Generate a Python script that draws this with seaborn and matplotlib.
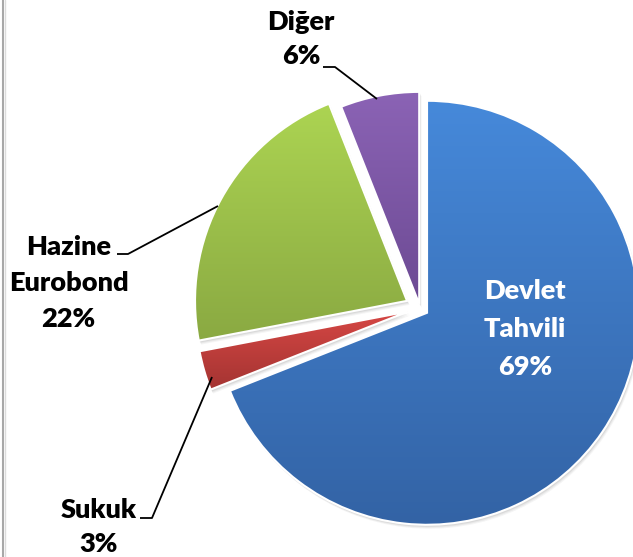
import numpy as np
import matplotlib
matplotlib.use("Agg")
import matplotlib.pyplot as plt
import matplotlib.patches as mpatches
import seaborn as sns
from matplotlib.colors import LinearSegmentedColormap

# ---- data ----
categories = ["Devlet\nTahvili", "Sukuk", "Hazine\nEurobond", "Diğer"]
shares = [69, 3, 22, 6]
pct_labels = ["69%", "3%", "22%", "6%"]

sns.set_theme(style="white")
plt.rcParams['font.family'] = ['Lato', 'DejaVu Sans']

W, H = 633, 557
fig = plt.figure(figsize=(W / 100, H / 100), dpi=100)
ax = fig.add_axes([0, 0, 1, 1])

top_colors = ["#4689da", "#d64744", "#acd452", "#8b63b5"]
bot_colors = ["#3363a5", "#a43432", "#8aa942", "#6c4a93"]
explode = [8.5, 12.7, 14.8, 4.2]
center = (420, 249)
radius = 212

wedges, _ = ax.pie(shares, center=center, radius=radius, startangle=90,
                   counterclock=False, explode=explode, colors=top_colors,
                   wedgeprops=dict(edgecolor='white', linewidth=1.5, zorder=3))

# soft shadows and gradient fills
for w, c_top, c_bot in zip(wedges, top_colors, bot_colors):
    for k, (off, a) in enumerate([(4, 0.06), (3, 0.08), (2, 0.10)]):
        sh = mpatches.Wedge((w.center[0] + off * 0.6, w.center[1] - off), w.r,
                            w.theta1, w.theta2, facecolor='#555555',
                            edgecolor='none', alpha=a, zorder=1)
        ax.add_patch(sh)
    bb = w.get_path().get_extents()
    cmap = LinearSegmentedColormap.from_list("g", [c_bot, c_top])
    grad = np.linspace(0, 1, 256).reshape(-1, 1)
    im = ax.imshow(grad, cmap=cmap, origin='lower', aspect='auto',
                   extent=[bb.x0, bb.x1, bb.y0, bb.y1], zorder=2,
                   interpolation='bilinear')
    im.set_clip_path(w)
    w.set_facecolor('none')

ax.set_xlim(0, W)
ax.set_ylim(0, H)
ax.set_aspect('equal')
ax.axis('off')

def Y(y):
    return H - y

fs = 19.5
fw = 'heavy'
ax.text(525, Y(329), categories[0] + "\n" + pct_labels[0], ha='center', va='center',
        color='white', fontsize=fs, fontweight=fw, linespacing=1.72, zorder=5)
ax.text(68.5, Y(283), categories[2] + "\n" + pct_labels[2], ha='center', va='center',
        color='black', fontsize=fs, fontweight=fw, linespacing=1.58, zorder=5)
ax.text(99, Y(527), categories[1] + "\n" + pct_labels[1], ha='center', va='center',
        color='black', fontsize=fs, fontweight=fw, linespacing=1.5, zorder=5)
ax.text(301, Y(39), categories[3] + "\n" + pct_labels[3], ha='center', va='center',
        color='black', fontsize=fs, fontweight=fw, linespacing=1.5, zorder=5)

# leader lines
leaders = [
    [(323, 67), (335, 67), (377, 99)],
    [(117, 254), (128, 254), (218, 206)],
    [(140, 518), (152, 518), (212, 377)],
]
for pts in leaders:
    xs = [p[0] for p in pts]
    ys = [Y(p[1]) for p in pts]
    ax.plot(xs, ys, color='black', lw=1.3, zorder=6, solid_capstyle='butt')

# left frame edge
ax.plot([2.5, 2.5], [0, H], color='#a8a8a8', lw=1.5, zorder=6)
ax.plot([4.5, 4.5], [0, H], color='#dcdcdc', lw=1.0, zorder=6)

fig.savefig("out.png", dpi=100)
